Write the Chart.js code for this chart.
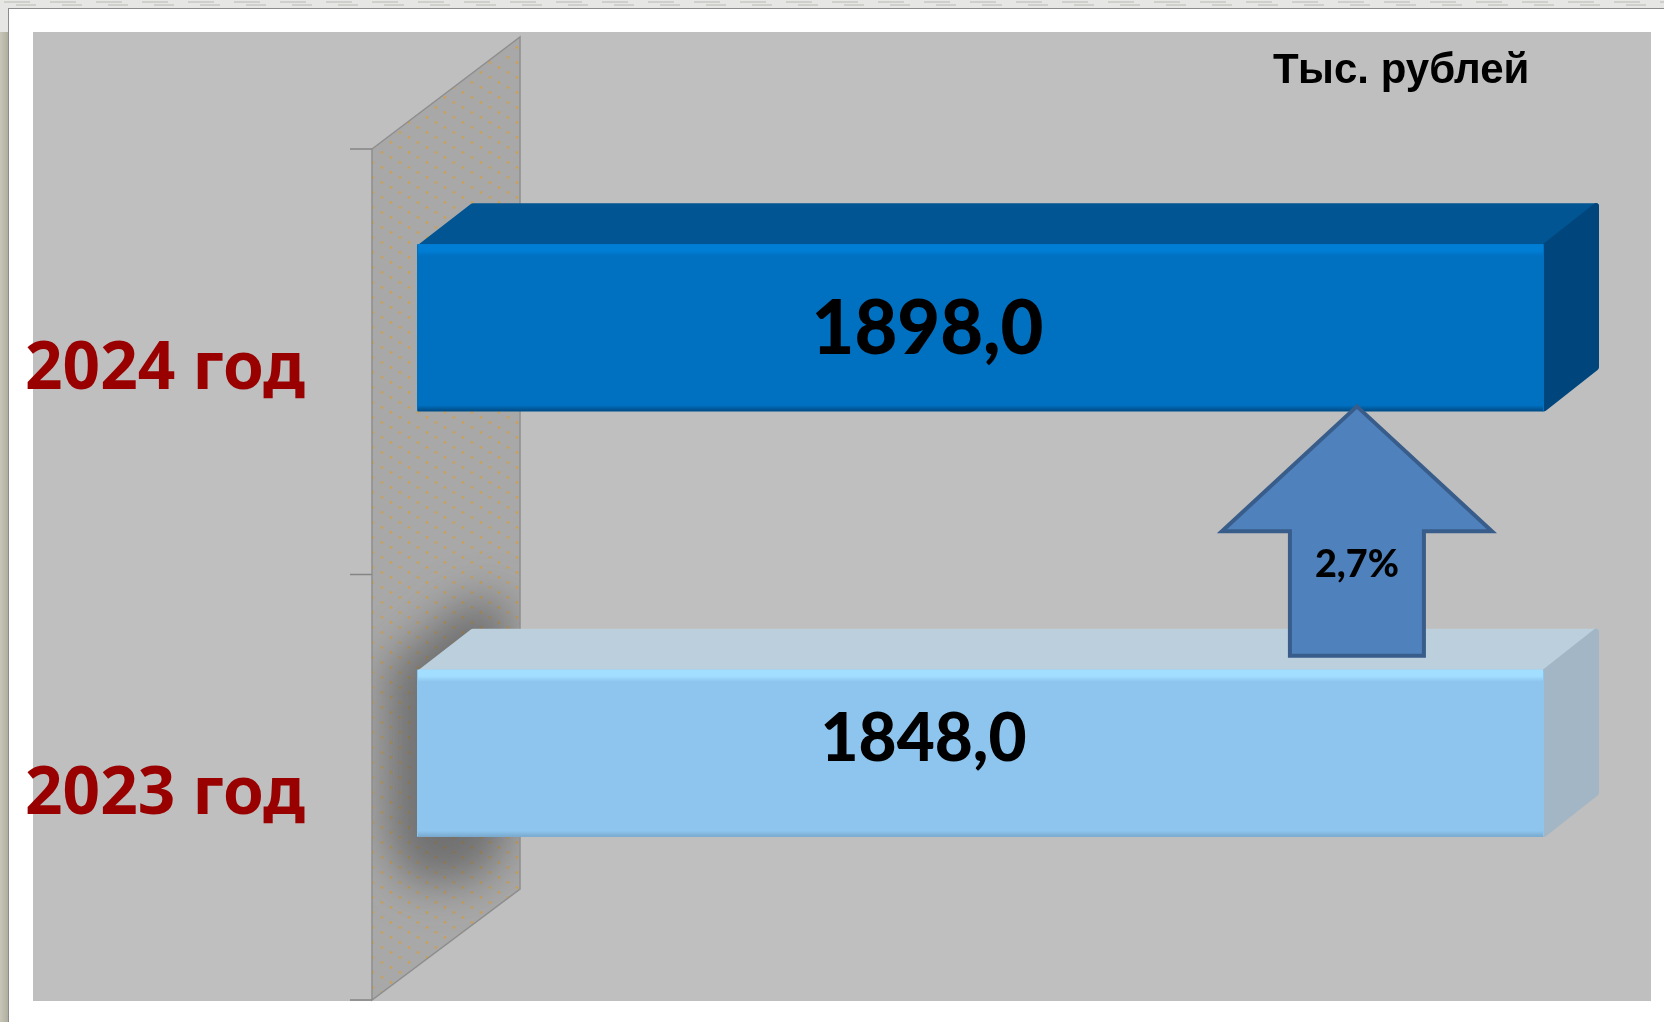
<!DOCTYPE html>
<html>
<head>
<meta charset="utf-8">
<title>Тыс. рублей</title>
<style>
    html, body { margin: 0; padding: 0; background: #fff; overflow: hidden; }
    canvas { display: block; }
</style>
<script src="https://cdn.jsdelivr.net/npm/chart.js@4"></script>
</head>
<body>
<canvas id="chart" width="1664" height="1022"></canvas>
<script>
// Chart data
const categories = ['2024 год', '2023 год'];
const values = [1898, 1848];
const axisMax = 1848; // both bars reach the same end in the picture
const unitLabel = 'Тыс. рублей';
const growthLabel = '2,7%';

// Bar styling, same order as categories
const frontColors = ['#0070c0', '#8ec5ee'];
const topColors = ['#005592', '#bbcfdc'];
const sideColors = ['#00467c', '#a2b6c5'];
const shineColors = ['#007ed6', '#a2deff'];
const edgeColors = ['#004a80', '#78a8cc'];
const valueFonts = [76, 67];
const valueWidths = [232, 206];
const valueOffsets = [[-53, 2], [-57, -14]];

// Fake 3D depth
const depthX = 55;
const depthY = 41;

/**
 * Trace a closed polygon
 */
function poly(ctx, points) {
    ctx.beginPath();
    points.forEach((p, i) => i ? ctx.lineTo(p[0], p[1]) : ctx.moveTo(p[0], p[1]));
    ctx.closePath();
}

/**
 * Fill a polygon and round its corners with a same-colour stroke
 */
function roundedFace(ctx, points, color) {
    poly(ctx, points);
    ctx.fillStyle = color;
    ctx.strokeStyle = color;
    ctx.lineWidth = 6;
    ctx.lineJoin = 'round';
    ctx.fill();
    ctx.stroke();
}

/**
 * Dotted fill of the axis wall, rows of dots falling to the right
 */
function wallPattern(ctx) {
    const tile = document.createElement('canvas');
    tile.width = 27;
    tile.height = 15;
    const t = tile.getContext('2d');
    t.fillStyle = '#a8a8a8';
    t.fillRect(0, 0, 27, 15);
    t.fillStyle = 'rgba(206,160,80,0.85)';
    for (let i = 0; i < 3; i++) {
        t.beginPath();
        t.arc(4 + 9 * i, 2.5 + 5 * i, 1.4, 0, Math.PI * 2);
        t.fill();
    }
    return ctx.createPattern(tile, 'repeat');
}

// Window frame and grey panel behind the chart
const backdrop = {
    id: 'backdrop',
    beforeDraw(chart) {
        const ctx = chart.ctx;
        ctx.save();
        ctx.fillStyle = '#e6e6e4';
        ctx.fillRect(0, 0, 1664, 8);
        ctx.fillRect(0, 0, 8, 32);
        ctx.fillStyle = '#cfcfcc';
        for (let x = 4; x < 1664; x += 46) {
            ctx.fillRect(x, 1, 26, 2);
            ctx.fillRect(x + 12, 4, 20, 2);
        }
        const strip = ctx.createLinearGradient(0, 0, 8, 0);
        strip.addColorStop(0, '#c8c6b8');
        strip.addColorStop(1, '#b0ae9e');
        ctx.fillStyle = strip;
        ctx.fillRect(0, 32, 8, 990);
        ctx.fillStyle = '#ffffff';
        ctx.fillRect(8, 8, 1656, 1014);
        ctx.fillStyle = '#8c8c8c';
        ctx.fillRect(8, 8, 1656, 1);
        ctx.fillRect(8, 8, 1, 1014);
        ctx.fillStyle = '#bfbfbf';
        ctx.fillRect(33, 32, 1618, 969);
        ctx.restore();
    }
};

// Axis wall, tick marks, bar depth faces
const depth = {
    id: 'depth',
    beforeDatasetsDraw(chart) {
        const ctx = chart.ctx;
        const { x: xScale, y: yScale } = chart.scales;
        const bars = chart.getDatasetMeta(0).data;
        const wallShiftY = 34;
        const front = xScale.left - 45;
        const back = front + 148;
        const top = yScale.top + wallShiftY;
        const bottom = yScale.bottom + wallShiftY;
        const wall = [[front, top], [back, top - 112], [back, bottom - 111], [front, bottom]];

        ctx.save();
        poly(ctx, wall);
        ctx.fillStyle = wallPattern(ctx);
        ctx.fill();

        // Soft shadow of the light bar, only on the wall
        ctx.save();
        poly(ctx, wall);
        ctx.clip();
        const b = bars[1];
        const t = b.y - b.height / 2;
        const d = b.y + b.height / 2;
        ctx.filter = 'blur(22px)';
        ctx.fillStyle = 'rgba(70,70,70,0.56)';
        poly(ctx, [[xScale.left - 30, t - 2], [xScale.left + depthX - 6, t - depthY - 28], [xScale.left + 92, t - depthY - 28], [xScale.left + 92, d + 6], [xScale.left + 60, d + 44], [xScale.left - 8, d + 48], [xScale.left - 30, d]]);
        ctx.fill();
        ctx.restore();

        poly(ctx, wall);
        ctx.strokeStyle = '#8e8e8e';
        ctx.lineWidth = 1.5;
        ctx.stroke();

        // Tick marks on the band edges
        ctx.strokeStyle = '#858585';
        const edges = [top, (top + bottom) / 2, bottom];
        edges.forEach(y => {
            ctx.beginPath();
            ctx.moveTo(front - 22, y);
            ctx.lineTo(front, y);
            ctx.stroke();
        });

        // Top and side faces of each bar
        bars.forEach((bar, i) => {
            const right = Math.min(bar.x, chart.chartArea.right);
            const left = xScale.left;
            const barTop = bar.y - bar.height / 2;
            const barBottom = bar.y + bar.height / 2;
            roundedFace(ctx, [[left + 3, barTop + 3], [left + depthX + 1, barTop - depthY + 3], [right + depthX - 3, barTop - depthY + 3], [right, barTop + 3]], topColors[i]);
            roundedFace(ctx, [[right, barTop + 3], [right + depthX - 3, barTop - depthY + 3], [right + depthX - 3, barBottom - depthY - 3], [right, barBottom - 3]], sideColors[i]);
        });
        ctx.restore();
    },
    afterDatasetsDraw(chart) {
        const ctx = chart.ctx;
        const { x: xScale, y: yScale } = chart.scales;
        const bars = chart.getDatasetMeta(0).data;
        ctx.save();

        // Bevel strips along the front faces
        bars.forEach((bar, i) => {
            const right = Math.min(bar.x, chart.chartArea.right);
            const barTop = bar.y - bar.height / 2;
            const barBottom = bar.y + bar.height / 2;
            const shine = ctx.createLinearGradient(0, barTop, 0, barTop + 12);
            shine.addColorStop(0, shineColors[i]);
            shine.addColorStop(0.55, shineColors[i]);
            shine.addColorStop(1, frontColors[i]);
            ctx.fillStyle = shine;
            ctx.fillRect(xScale.left + 1, barTop, right - xScale.left - 2, 12);
            const edge = ctx.createLinearGradient(0, barBottom - 6, 0, barBottom);
            edge.addColorStop(0, frontColors[i]);
            edge.addColorStop(1, edgeColors[i]);
            ctx.fillStyle = edge;
            ctx.fillRect(xScale.left + 1, barBottom - 6, right - xScale.left - 2, 6);
        });

        // Growth arrow between the two bars
        const cx = xScale.left + (chart.chartArea.right - xScale.left) * 0.834;
        const tip = bars[0].y + bars[0].height / 2 - 5;
        const foot = bars[1].y - bars[1].height / 2 - 14;
        const wing = tip + 125;
        poly(ctx, [[cx, tip], [cx + 135, wing], [cx + 67, wing], [cx + 67, foot], [cx - 67, foot], [cx - 67, wing], [cx - 135, wing]]);
        ctx.fillStyle = '#4f81bd';
        ctx.fill();
        ctx.strokeStyle = '#385d8a';
        ctx.lineWidth = 4;
        ctx.stroke();

        // Text
        ctx.textBaseline = 'middle';
        ctx.textAlign = 'center';
        ctx.fillStyle = '#000000';
        ctx.font = '900 38px Lato, "Noto Sans", sans-serif';
        ctx.fillText(growthLabel, cx, wing + 33, 84);

        const mid = (xScale.left + chart.chartArea.right) / 2;
        bars.forEach((bar, i) => {
            const text = values[i].toFixed(1).replace('.', ',');
            ctx.font = `900 ${valueFonts[i]}px Lato, "Noto Sans", sans-serif`;
            ctx.fillText(text, mid + valueOffsets[i][0], bar.y + valueOffsets[i][1], valueWidths[i]);
        });

        ctx.textAlign = 'left';
        ctx.fillStyle = '#990000';
        ctx.font = 'bold 66px "Noto Sans", sans-serif';
        categories.forEach((label, i) => {
            ctx.fillText(label, 25, yScale.getPixelForValue(i) + 42, 280);
        });

        ctx.fillStyle = '#000000';
        ctx.font = 'bold 42px "Liberation Sans", sans-serif';
        ctx.fillText(unitLabel, 1273, 71, 258);
        ctx.restore();
    }
};

new Chart(document.getElementById('chart').getContext('2d'), {
    type: 'bar',
    data: {
        labels: categories,
        datasets: [{
            data: values,
            backgroundColor: frontColors,
            borderRadius: 3,
            categoryPercentage: 1,
            barPercentage: 0.393
        }]
    },
    options: {
        indexAxis: 'y',
        responsive: false,
        animation: false,
        layout: {
            padding: { left: 417, right: 120, top: 115, bottom: 56 }
        },
        plugins: {
            legend: { display: false },
            tooltip: { enabled: false }
        },
        scales: {
            x: { display: false, min: 0, max: axisMax },
            y: { display: false }
        }
    },
    plugins: [backdrop, depth]
});
</script>
</body>
</html>
